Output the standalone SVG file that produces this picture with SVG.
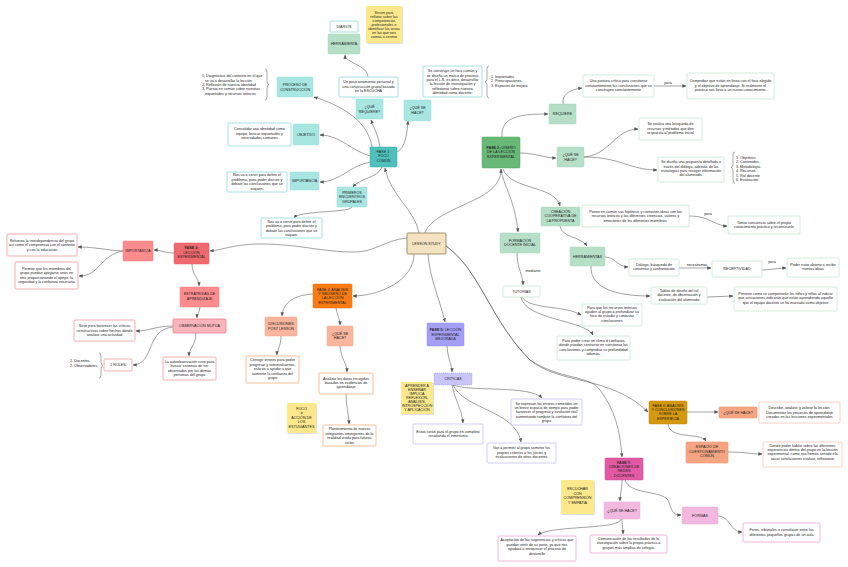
<svg xmlns="http://www.w3.org/2000/svg" width="848" height="567" viewBox="0 0 848 567">
<defs>
<marker id="a" viewBox="0 0 6 6" refX="5.5" refY="3" markerWidth="4" markerHeight="4" orient="auto" markerUnits="userSpaceOnUse"><path d="M0,0.5 L6,3 L0,5.5 z" fill="#555"/></marker>
<style>
.t{font-family:"Liberation Sans",Arial,sans-serif;font-size:3.7px;fill:#222;text-anchor:middle}
.s{text-anchor:start}
.b{font-weight:bold}
rect{rx:1;ry:1}
.w{fill:#fff;stroke-width:0.8}
.k1{fill:#4fc1bc;stroke:#3aa9a4;stroke-width:0.5}
.l1{fill:#a8e6e2;stroke:#98dcd8;stroke-width:0.5}
.w1{stroke:#8fd9d4}
.k2{fill:#68b877;stroke:#55a563;stroke-width:0.5}
.l2{fill:#b6dfc8;stroke:#a6d6bb;stroke-width:0.5}
.w2{stroke:#c4e7d4}
.ls{fill:#f4e3c1;stroke:#8a7a5a;stroke-width:0.8}
.k3{fill:#ef6b6f;stroke:#e05a5e;stroke-width:0.5}
.l3{fill:#ff8c8c;stroke:#f57f80;stroke-width:0.5}
.m3{fill:#f9b5bb;stroke:#f0848c;stroke-width:0.8}
.w3{stroke:#f49aa0}
.k4{fill:#fb7b13;stroke:#e86c08;stroke-width:0.5}
.l4{fill:#f9b59d;stroke:#f3a68b;stroke-width:0.5}
.w4{stroke:#f9ad7c}
.k5{fill:#a49ef5;stroke:#938ce8;stroke-width:0.5}
.l5{fill:#c9c5f9;stroke:#9d97ee;stroke-width:0.6;stroke-dasharray:1,1}
.w5{stroke:#c6c1f6}
.k6{fill:#d6980e;stroke:#c0870a;stroke-width:0.5}
.l6{fill:#f6a582;stroke:#f19570;stroke-width:0.6}
.w6{stroke:#f6c7b6}
.k7{fill:#e25aa3;stroke:#d04b92;stroke-width:0.5}
.l7{fill:#f2b8df;stroke:#e9a8d4;stroke-width:0.5}
.w7{stroke:#e8a6d2}
.st{fill:#fde98c}
.sh{fill:#000;opacity:0.12}
.c{fill:none;stroke:#555;stroke-width:0.55;marker-end:url(#a)}
.br{fill:none;stroke:#555;stroke-width:0.5}
</style>
</defs>
<rect width="848" height="567" fill="#fff" rx="0"/>

<g id="connectors">
<path class="c" d="M419,233 C415,210 390,195 385,168"/>
<path class="c" d="M372,147 C368,120 340,105 314,97"/>
<path class="c" d="M380,147 C378,135 374,128 371,120"/>
<path class="c" d="M397,152 C405,148 407,135 408,121"/>
<path class="c" d="M370,156 C350,150 340,135 320,135"/>
<path class="c" d="M371,162 C350,165 340,182 320,182"/>
<path class="c" d="M382,167 C378,178 360,178 353,187"/>
<path class="c" d="M352,207 C350,213 300,210 294,218"/>
<path class="c" d="M368,77 C368,65 345,63 345,55"/>
<path class="c" d="M425,233 C430,215 470,205 488,192 C497,185 501,178 501,169"/>
<path class="c" d="M501,169 C503,185 515,200 518,232"/>
<path class="c" d="M503,169 C510,190 555,185 560,206"/>
<path class="c" d="M502,137 C500,115 525,114 548,114"/>
<path class="c" d="M563,104 C562,95 568,90 582,88"/>
<path class="c" d="M654,86 L686,86"/>
<path class="c" d="M520,153 C535,153 545,158 556,158"/>
<path class="c" d="M584,157 C610,155 615,129 638,129"/>
<path class="c" d="M584,157 C620,157 630,170 657,170"/>
<path class="c" d="M560,226 C562,238 580,236 587,246"/>
<path class="c" d="M689,216 C710,216 715,226 727,226"/>
<path class="c" d="M605,257 C615,257 618,267 628,267"/>
<path class="c" d="M679,268 L711,268"/>
<path class="c" d="M762,270 C770,270 778,268 786,268"/>
<path class="c" d="M591,266 C590,290 620,296 650,296"/>
<path class="c" d="M707,297 L733,296"/>
<path class="c" d="M517,253 C517,268 523,275 523,285"/>
<path class="c" d="M522,297 C530,310 565,305 581,315"/>
<path class="c" d="M521,297 C525,320 585,320 593,335"/>
<path class="c" d="M428,254 C430,280 440,300 445,322"/>
<path class="c" d="M447,346 C448,360 452,365 452,372"/>
<path class="c" d="M453,385 C470,392 530,385 542,398"/>
<path class="c" d="M452,385 C455,400 462,410 463,423"/>
<path class="c" d="M453,385 C465,410 515,410 521,442"/>
<path class="c" d="M407,238 C385,240 375,252 355,252 C320,252 300,244 260,244 C235,244 222,250 210,251"/>
<path class="c" d="M174,253 C165,253 160,250 154,250"/>
<path class="c" d="M123,251 C105,250 95,247 78,247"/>
<path class="c" d="M123,251 C100,255 100,276 79,276"/>
<path class="c" d="M192,264 C192,275 199,278 199,286"/>
<path class="c" d="M200,307 C200,312 197,314 197,318"/>
<path class="c" d="M173,326 C155,326 150,331 136,331"/>
<path class="c" d="M173,327 C145,330 155,364 133,365"/>
<path class="c" d="M196,333 C196,345 189,348 189,356"/>
<path class="c" d="M414,254 C414,280 380,296 353,296"/>
<path class="c" d="M313,294 C295,295 283,302 282,316"/>
<path class="c" d="M336,308 C337,315 340,318 340,325"/>
<path class="c" d="M281,336 C281,346 277,350 277,355"/>
<path class="c" d="M340,346 C341,360 347,362 347,372"/>
<path class="c" d="M346,394 C346,405 349,415 349,424"/>
<path class="c" d="M446,246 C480,270 490,320 530,360 C560,385 610,375 648,412"/>
<path class="c" d="M446,246 C480,270 490,320 530,360 C560,380 590,375 600,390 C615,410 620,430 622,457"/>
<path class="c" d="M687,412 C700,412 705,412 718,412"/>
<path class="c" d="M668,424 C670,440 700,432 706,441"/>
<path class="c" d="M728,452 C745,452 750,454 762,454"/>
<path class="c" d="M622,480 C622,490 620,494 620,501"/>
<path class="c" d="M625,480 C630,495 660,490 668,500 C672,510 672,515 681,515"/>
<path class="c" d="M718,516 C730,516 730,532 742,532"/>
<path class="c" d="M621,519 C620,530 550,525 538,535"/>
<path class="c" d="M622,519 C622,525 623,528 623,534"/>
<text class="t" x="668" y="84">para</text>
<text class="t" x="708" y="215">para</text>
<text class="t" x="697" y="266">necesitamos</text>
<text class="t" x="772" y="263">para</text>
<text class="t" x="533" y="272">mediante</text>
</g>

<g id="sticky-sirven"><rect class="sh" x="367" y="7" width="36" height="37"/><rect class="st" x="366" y="6" width="36" height="37" rx="0"/><text class="t" x="384"><tspan x="384" y="13.5">Sirven para</tspan><tspan x="384" y="17.6">reflotar sobre las</tspan><tspan x="384" y="21.7">competencias</tspan><tspan x="384" y="25.8">profesionales e</tspan><tspan x="384" y="29.9">identificar las áreas</tspan><tspan x="384" y="34">en las que nos</tspan><tspan x="384" y="38.1">vamos a centrar</tspan></text></g>
<g id="diarios"><rect class="w w1" x="330" y="21" width="28" height="11"/><text class="t" x="344" y="27.8">DIARIOS</text></g>
<g id="herramienta"><rect class="l2" x="328" y="34" width="32" height="20"/><text class="t" x="344" y="45.3">HERRAMIENTA</text></g>
<g id="posicionamiento"><rect class="w w1" x="339" y="77" width="59" height="20"/><text class="t"><tspan x="368.5" y="83.2">Un posicionamiento personal y</tspan><tspan x="368.5" y="87.6">una construcción grupal basada</tspan><tspan x="368.5" y="92">en la ESCUCHA</tspan></text></g>
<g id="proceso"><rect class="l1" x="277" y="77" width="36" height="20"/><text class="t"><tspan x="295" y="86">PROCESO DE</tspan><tspan x="295" y="90.5">CONSTRUCCIÓN</tspan></text></g>
<g id="lista-proceso"><text class="t s"><tspan x="202" y="77.3">1. Diagnóstico del contexto en el que</tspan><tspan x="205" y="81.5">se va a desarrollar la lección</tspan><tspan x="202" y="85.8">2. Reflexión de nuestra identidad</tspan><tspan x="202" y="90.2">3. Puesta en común sobre nuestras</tspan><tspan x="205" y="94.5">inquietudes y recursos teóricos</tspan></text><path class="br" d="M265,69 q2,0 2,3 v9 q0,3 2,3.5 q-2,0.5 -2,3.5 v9 q0,3 -2,3"/></g>
<g id="que-requiere"><rect class="l1" x="356" y="99" width="27" height="20"/><text class="t"><tspan x="369.5" y="108.2">¿QUÉ</tspan><tspan x="369.5" y="112.7">REQUIERE?</tspan></text></g>
<g id="que-hace-1"><rect class="l1" x="404" y="100" width="27" height="21"/><text class="t"><tspan x="417.5" y="109">¿QUÉ SE</tspan><tspan x="417.5" y="113.5">HACE?</tspan></text></g>
<g id="se-construye"><rect class="w w1" x="423" y="66" width="59" height="31"/><text class="t"><tspan x="452.5" y="72.2">Se construye un foco común y</tspan><tspan x="452.5" y="76.6">se diseña un marco de proceso</tspan><tspan x="452.5" y="81">para el L.S, es decir, desarrollar</tspan><tspan x="452.5" y="85.4">la lección de investigación y</tspan><tspan x="452.5" y="89.8">reflexionar sobre nuestra</tspan><tspan x="452.5" y="94.2">identidad como docente.</tspan></text></g>
<g id="lista-inquietudes"><path class="br" d="M489,66 q-2,0 -2,3 v9.5 q0,3 -2,3.5 q2,0.5 2,3.5 v9.5 q0,3 2,3"/><text class="t s"><tspan x="491" y="78.2">1. Inquietudes</tspan><tspan x="491" y="82.4">2. Preocupaciones</tspan><tspan x="491" y="86.8">3. Espacios de mejora</tspan></text></g>
<g id="objetivo"><rect class="l1" x="293" y="124" width="26" height="21"/><text class="t" x="306" y="135.8">OBJETIVO</text></g>
<g id="consolidar"><rect class="w w1" x="228" y="123" width="63" height="23"/><text class="t"><tspan x="259.5" y="130.2">Consolidar una identidad como</tspan><tspan x="259.5" y="134.6">equipo, buscar inquietudes y</tspan><tspan x="259.5" y="139">necesidades comunes</tspan></text></g>
<g id="fase1"><rect class="k1" x="370" y="147" width="27" height="20"/><text class="t"><tspan x="383.5" y="153">FASE 1:</tspan><tspan x="383.5" y="157.4">FOCO</tspan><tspan x="383.5" y="161.8">COMÚN</tspan></text></g>
<g id="importancia-1"><rect class="l1" x="290" y="172" width="29" height="18"/><text class="t" x="304.5" y="182.3">IMPORTANCIA</text></g>
<g id="nos-va-1"><rect class="w w1" x="227" y="172" width="60" height="20"/><text class="t"><tspan x="257" y="176.3">Nos va a servir para definir el</tspan><tspan x="257" y="180.7">problema, para poder discutir y</tspan><tspan x="257" y="185.1">debatir las conclusiones que se</tspan><tspan x="257" y="189.5">saquen.</tspan></text></g>
<g id="primeros"><rect class="l1" x="337" y="187" width="30" height="20"/><text class="t"><tspan x="352" y="193.8">PRIMEROS</tspan><tspan x="352" y="198.2">ENCUENTROS</tspan><tspan x="352" y="202.6">GRUPALES</tspan></text></g>
<g id="nos-va-2"><rect class="w w1" x="261" y="218" width="61" height="20"/><text class="t"><tspan x="291.5" y="222.8">Nos va a servir para definir el</tspan><tspan x="291.5" y="227.2">problema, para poder discutir y</tspan><tspan x="291.5" y="231.6">debatir las conclusiones que se</tspan><tspan x="291.5" y="236">saquen.</tspan></text></g>
<g id="lesson-study"><rect class="ls" x="407" y="233" width="39" height="21"/><text class="t" x="426.5" y="244.8">LESSON STUDY</text></g>

<g id="fase2"><rect class="k2" x="482" y="137" width="38" height="31"/><text class="t"><tspan x="501" y="149"><tspan class="b">FASE 2:</tspan> DISEÑO</tspan><tspan x="501" y="153.4">DE LA LECCIÓN</tspan><tspan x="501" y="157.8">EXPERIMENTAL</tspan></text></g>
<g id="requiere"><rect class="l2" x="549" y="104" width="27" height="20"/><text class="t" x="562.5" y="115.3">REQUIERE</text></g>
<g id="postura"><rect class="w w2" x="583" y="75" width="71" height="22"/><text class="t"><tspan x="618.5" y="82.2">Una postura crítica para cuestionar</tspan><tspan x="618.5" y="86.6">constantemente las conclusiones que se</tspan><tspan x="618.5" y="91">construyen constantemente</tspan></text></g>
<g id="comprobar"><rect class="w w2" x="687" y="73" width="87" height="26"/><text class="t"><tspan x="730.5" y="82.2">Comprobar que están en línea con el foco elegido</tspan><tspan x="730.5" y="86.6">y el objetivo de aprendizaje. Si realmente el</tspan><tspan x="730.5" y="91">proceso nos lleva a un nuevo conocimiento.</tspan></text></g>
<g id="que-hace-2"><rect class="l2" x="557" y="147" width="27" height="20"/><text class="t"><tspan x="570.5" y="156">¿QUÉ SE</tspan><tspan x="570.5" y="160.5">HACE?</tspan></text></g>
<g id="se-realiza"><rect class="w w2" x="639" y="118" width="63" height="22"/><text class="t"><tspan x="670.5" y="125.2">Se realiza una búsqueda de</tspan><tspan x="670.5" y="129.6">recursos y métodos que den</tspan><tspan x="670.5" y="134">respuesta al problema inicial</tspan></text></g>
<g id="se-disena"><rect class="w w2" x="658" y="157" width="66" height="25"/><text class="t"><tspan x="691" y="163.2">Se diseña una propuesta detallada a</tspan><tspan x="691" y="167.6">través del diálogo, además de las</tspan><tspan x="691" y="172">estrategias para recoger información</tspan><tspan x="691" y="176.4">del alumnado.</tspan></text></g>
<g id="lista-objetivos"><path class="br" d="M735,152 q-2,0 -2,3 v9 q0,3 -2,3.5 q2,0.5 2,3.5 v9 q0,3 2,3"/><text class="t s"><tspan x="736" y="159">1. Objetivos</tspan><tspan x="736" y="163.4">2. Contenidos</tspan><tspan x="736" y="167.8">3. Metodología</tspan><tspan x="736" y="172.2">4. Recursos</tspan><tspan x="736" y="176.6">5. Rol docente</tspan><tspan x="736" y="181">6. Evaluación</tspan></text></g>
<g id="creacion"><rect class="l2" x="541" y="207" width="39" height="19"/><text class="t"><tspan x="560.5" y="213">CREACIÓN</tspan><tspan x="560.5" y="217.4">COOPERATIVA DE</tspan><tspan x="560.5" y="221.8">LA PROPUESTA</tspan></text></g>
<g id="ponen"><rect class="w w2" x="582" y="205" width="107" height="22"/><text class="t"><tspan x="635.5" y="212.8">Ponen en común sus hipótesis y contastan ideas con los</tspan><tspan x="635.5" y="217.2">recursos teóricos y las diferentes creencias, valores y</tspan><tspan x="635.5" y="221.6">emociones de los diferentes miembros.</tspan></text></g>
<g id="tomar"><rect class="w w2" x="728" y="216" width="72" height="18"/><text class="t"><tspan x="764" y="223.5">Tomar conciencia sobre el propio</tspan><tspan x="764" y="227.9">conocimiento práctico y reconstruirlo</tspan></text></g>
<g id="formacion"><rect class="l2" x="500" y="233" width="40" height="20"/><text class="t"><tspan x="520" y="242">FORMACIÓN</tspan><tspan x="520" y="246.4">DOCENTE INICIAL</tspan></text></g>
<g id="herramientas"><rect class="l2" x="570" y="247" width="35" height="19"/><text class="t" x="587.5" y="257.8">HERRAMIENTAS</text></g>
<g id="dialogo"><rect class="w w2" x="629" y="259" width="50" height="17"/><text class="t"><tspan x="654" y="266">Diálogo, búsqueda de</tspan><tspan x="654" y="270.4">consenso y confrontación</tspan></text></g>
<g id="receptividad"><rect class="w w2" x="712" y="261" width="50" height="16"/><text class="t" x="737" y="270.3">RECEPTIVIDAD</text></g>
<g id="poder-estar"><rect class="w w2" x="787" y="258" width="52" height="19"/><text class="t"><tspan x="813" y="266">Poder estar abierto a recibir</tspan><tspan x="813" y="270.4">nuevas ideas</tspan></text></g>
<g id="tablas"><rect class="w w2" x="651" y="287" width="56" height="17"/><text class="t"><tspan x="679" y="292">Tablas de diseño del rol</tspan><tspan x="679" y="296.4">docente, de observación y</tspan><tspan x="679" y="300.8">evaluación del alumnado</tspan></text></g>
<g id="preveen"><rect class="w w2" x="734" y="287" width="103" height="24"/><text class="t"><tspan x="785.5" y="294.8">Preveen como se comportarán los niños y niñas al indicar</tspan><tspan x="785.5" y="299.2">que actuaciones indicarán que están aprendiendo aquello</tspan><tspan x="785.5" y="303.6">que el equipo docente se ha marcado como objetivo</tspan></text></g>
<g id="tutorias"><rect class="w w2" x="503" y="286" width="37" height="11"/><text class="t" x="521.5" y="292.8">TUTORÍAS</text></g>
<g id="para-que"><rect class="w w2" x="582" y="304" width="60" height="22"/><text class="t"><tspan x="612" y="308.6">Para que los recursos teóricos</tspan><tspan x="612" y="313">ayuden al grupo a profundizar su</tspan><tspan x="612" y="317.4">foco de estudio y contastar</tspan><tspan x="612" y="321.8">conclusiones</tspan></text></g>
<g id="para-poder"><rect class="w w2" x="557" y="336" width="73" height="24"/><text class="t"><tspan x="593.5" y="342">Para poder crear un clima d confianza</tspan><tspan x="593.5" y="346.4">donde puedan centrarse en cuestionar las</tspan><tspan x="593.5" y="350.8">conclusiones y comprobar su profundidad</tspan><tspan x="593.5" y="355.2">además.</tspan></text></g>

<g id="fase5"><rect class="k5" x="427" y="323" width="37" height="23"/><text class="t"><tspan x="445.5" y="331.4"><tspan class="b">FASE 5:</tspan> LECCIÓN</tspan><tspan x="445.5" y="335.8">EXPERIMENTAL</tspan><tspan x="445.5" y="340.2">MEJORADA</tspan></text></g>
<g id="criticas"><rect class="l5" x="434" y="373" width="38" height="12"/><text class="t" x="453" y="380.3">CRÍTICAS</text></g>
<g id="sticky-aprender"><rect class="sh" x="402" y="383" width="32" height="32"/><rect class="st" x="401" y="382" width="32" height="32" rx="0"/><text class="t"><tspan x="417" y="386.5">APRENDER A</tspan><tspan x="417" y="390.5">ENSEÑAR</tspan><tspan x="417" y="394.5">IMPLICA</tspan><tspan x="417" y="398.5">REFLEXIÓN,</tspan><tspan x="417" y="402.5">ANÁLISIS,</tspan><tspan x="417" y="406.5">INTROSPECCIÓN</tspan><tspan x="417" y="410.5">Y APLICACIÓN</tspan></text></g>
<g id="se-expresan"><rect class="w w5" x="511" y="399" width="71" height="26"/><text class="t"><tspan x="546.5" y="404.5">Se expresan los errores cometidos en</tspan><tspan x="546.5" y="408.9">un breve espacio de tiempo para poder</tspan><tspan x="546.5" y="413.3">favorecer el progreso y evolución real</tspan><tspan x="546.5" y="417.7">aumentando también la confianza del</tspan><tspan x="546.5" y="422.1">grupo</tspan></text></g>
<g id="estos"><rect class="w w5" x="413" y="424" width="70" height="20"/><text class="t"><tspan x="448" y="433">Estos serán para el grupo en completo</tspan><tspan x="448" y="437.4">resaltando el inmetismo</tspan></text></g>
<g id="van"><rect class="w w5" x="487" y="443" width="69" height="20"/><text class="t"><tspan x="521.5" y="449.4">Van a permitir al grupo someter los</tspan><tspan x="521.5" y="453.8">propios criterios a los juicios y</tspan><tspan x="521.5" y="458.2">evaluaciones de otros docentes</tspan></text></g>

<g id="fase3"><rect class="k3" x="174" y="243" width="35" height="21"/><text class="t"><tspan x="191.5" y="249.3" class="b">FASE 3:</tspan><tspan x="191.5" y="253.7">LECCIÓN</tspan><tspan x="191.5" y="258.1">EXPERIMENTAL</tspan></text></g>
<g id="importancia-3"><rect class="l3" x="123" y="241" width="30" height="20"/><text class="t" x="138" y="252.3">IMPORTANCIA</text></g>
<g id="refuerza"><rect class="w w3" x="7" y="234" width="70" height="22"/><text class="t"><tspan x="42" y="242">Refuerza la interdependencia del grupo</tspan><tspan x="42" y="246.4">así como el compromiso con el contexto</tspan><tspan x="42" y="250.8">y con la educación</tspan></text></g>
<g id="permite"><rect class="w w3" x="15" y="262" width="63" height="27"/><text class="t"><tspan x="46.5" y="270">Permite que los miembros del</tspan><tspan x="46.5" y="274.4">grupo puedan apoyarse unos en</tspan><tspan x="46.5" y="278.8">otro proporcionando el apoyo, la</tspan><tspan x="46.5" y="283.2">seguridad y la confianza necesaria</tspan></text></g>
<g id="estrategias"><rect class="l3" x="180" y="287" width="39" height="20"/><text class="t"><tspan x="199.5" y="295.2">ESTRATEGIAS DE</tspan><tspan x="199.5" y="299.6">APRENDIZAJE</tspan></text></g>
<g id="observacion"><rect class="m3" x="173" y="319" width="53" height="14"/><text class="t" x="199.5" y="327.3">OBSERVACIÓN MUTUA</text></g>
<g id="sirve"><rect class="w w3" x="74" y="320" width="61" height="21"/><text class="t"><tspan x="104.5" y="327.2">Sirve para favorecer las críticas</tspan><tspan x="104.5" y="331.6">constructivas sobre hechos donde</tspan><tspan x="104.5" y="336">analizar una actividad</tspan></text></g>
<g id="roles"><rect class="w w3" x="104" y="359" width="28" height="12"/><text class="t" x="118" y="366.3">2 ROLES</text></g>
<g id="lista-roles"><text class="t s"><tspan x="70" y="362.3">1. Docentes</tspan><tspan x="70" y="366.7">2. Observadores</tspan></text><path class="br" d="M99,353 q2,0 2,3 v6 q0,3 2,3.5 q-2,0.5 -2,3.5 v6 q0,3 -2,3"/></g>
<g id="autoobservacion"><rect class="w w3" x="163" y="357" width="53" height="23"/><text class="t"><tspan x="189.5" y="363">La autoobservación sirve para</tspan><tspan x="189.5" y="367.4">buscar sistemas de ser</tspan><tspan x="189.5" y="371.8">observados por los demás</tspan><tspan x="189.5" y="376.2">personas del grupo</tspan></text></g>

<g id="fase4"><rect class="k4" x="313" y="284" width="39" height="24"/><text class="t"><tspan x="332.5" y="290.6">FASE 4: ANÁLISIS</tspan><tspan x="332.5" y="295">Y REDISEÑO DE</tspan><tspan x="332.5" y="299.4">LA LECCIÓN</tspan><tspan x="332.5" y="303.8">EXPERIMENTAL</tspan></text></g>
<g id="discusiones"><rect class="l4" x="265" y="317" width="32" height="19"/><text class="t"><tspan x="281" y="325.2">DISCUSIONES</tspan><tspan x="281" y="329.6">POST LESSON</tspan></text></g>
<g id="que-hace-4"><rect class="l4" x="327" y="326" width="26" height="20"/><text class="t"><tspan x="340" y="335">¿QUÉ SE</tspan><tspan x="340" y="339.4">HACE?</tspan></text></g>
<g id="corregir"><rect class="w w4" x="246" y="356" width="53" height="27"/><text class="t"><tspan x="272.5" y="361.4">Corregir errores para poder</tspan><tspan x="272.5" y="365.8">progresar y autoevaluarnos,</tspan><tspan x="272.5" y="370.2">esto va a ayudar a que</tspan><tspan x="272.5" y="374.6">aumente la confianza del</tspan><tspan x="272.5" y="379">grupo</tspan></text></g>
<g id="analizar"><rect class="w w4" x="319" y="373" width="54" height="21"/><text class="t"><tspan x="346" y="379.6">Analizar los datos recogidos</tspan><tspan x="346" y="384">basados en evidencias de</tspan><tspan x="346" y="388.4">aprendizaje</tspan></text></g>
<g id="sticky-foco"><rect class="sh" x="288" y="404" width="29" height="30"/><rect class="st" x="287" y="403" width="29" height="30" rx="0"/><text class="t"><tspan x="301.5" y="410">FOCO</tspan><tspan x="301.5" y="414.4">=</tspan><tspan x="301.5" y="418.8">ACCIÓN DE</tspan><tspan x="301.5" y="423.2">LOS</tspan><tspan x="301.5" y="427.6">ESTUDIANTES</tspan></text></g>
<g id="planteamiento"><rect class="w w4" x="323" y="425" width="53" height="21"/><text class="t"><tspan x="349.5" y="430.4">Planteamiento de nuevos</tspan><tspan x="349.5" y="434.8">integrantes emergentes de la</tspan><tspan x="349.5" y="439.2">realidad vivida para futuros</tspan><tspan x="349.5" y="443.6">ciclos</tspan></text></g>

<g id="fase6"><rect class="k6" x="649" y="401" width="38" height="23"/><text class="t"><tspan x="668" y="406.5">FASE 6: ANÁLISIS</tspan><tspan x="668" y="410.9">Y CONCLUSIONES</tspan><tspan x="668" y="415.3">SOBRE LA</tspan><tspan x="668" y="419.7">EXPERIECIA</tspan></text></g>
<g id="que-hace-6"><rect class="l6" x="719" y="407" width="38" height="11"/><text class="t" x="738" y="413.8">¿QUÉ SE HACE?</text></g>
<g id="describir"><rect class="w w6" x="759" y="402" width="81" height="21"/><text class="t"><tspan x="799.5" y="409.2">Describir, analizar y valorar la lección.</tspan><tspan x="799.5" y="413.6">Documentar los procesos de aprendizaje</tspan><tspan x="799.5" y="418">creados en las lecciones experimentales</tspan></text></g>
<g id="espacio"><rect class="l6" x="686" y="442" width="42" height="21"/><text class="t"><tspan x="707" y="448.4">ESPACIO DE</tspan><tspan x="707" y="452.8">CUESTIONAMIENTO</tspan><tspan x="707" y="457.2">COMÚN</tspan></text></g>
<g id="donde"><rect class="w w6" x="763" y="442" width="79" height="25"/><text class="t"><tspan x="802.5" y="446.6">Donde poder hablar sobre las diferentes</tspan><tspan x="802.5" y="451">experiencias dentro del grupo en la lección</tspan><tspan x="802.5" y="455.4">experimental, como nos hemos sentido ela</tspan><tspan x="802.5" y="459.8">sacar conclusiones evaluar, reflexionar</tspan></text></g>

<g id="fase7"><rect class="k7" x="605" y="458" width="38" height="22"/><text class="t"><tspan x="624" y="463.5" class="b">FASE 7:</tspan><tspan x="624" y="467.9">CREACIONES DE</tspan><tspan x="624" y="472.3">REDES</tspan><tspan x="624" y="476.7">DOCENTES</tspan></text></g>
<g id="sticky-escuchar"><rect class="sh" x="562" y="481" width="33" height="34"/><rect class="st" x="561" y="480" width="33" height="34" rx="0"/><text class="t"><tspan x="577.5" y="490.3">ESCUCHAR</tspan><tspan x="577.5" y="494.7">CON</tspan><tspan x="577.5" y="499.1">COMPRENSIÓN</tspan><tspan x="577.5" y="503.5">Y EMPATÍA</tspan></text></g>
<g id="que-hace-7"><rect class="l7" x="604" y="502" width="36" height="17"/><text class="t" x="622" y="511.8">¿QUÉ SE HACE?</text></g>
<g id="formas"><rect class="l7" x="682" y="507" width="36" height="17"/><text class="t" x="700" y="516.8">FORMAS</text></g>
<g id="foros"><rect class="w w7" x="743" y="523" width="77" height="19"/><text class="t"><tspan x="781.5" y="531">Foros, tribunales o constilaste entre los</tspan><tspan x="781.5" y="535.6">diferentes pequeños grupos de un aula</tspan></text></g>
<g id="aceptacion"><rect class="w w7" x="498" y="536" width="78" height="25"/><text class="t"><tspan x="537" y="540.8">Aceptación de las sugerencias y críticas que</tspan><tspan x="537" y="545.6">puedan venir de su parte, ya que nos</tspan><tspan x="537" y="550.4">ayudará a enriquecer el proceso de</tspan><tspan x="537" y="555.2">desarrollo</tspan></text></g>
<g id="comunicacion"><rect class="w w7" x="590" y="535" width="77" height="18"/><text class="t"><tspan x="628.5" y="539.8">Comunicación de los resultados de la</tspan><tspan x="628.5" y="544.4">investigación sobre la propia práctica a</tspan><tspan x="628.5" y="549">grupos más amplios de colegas</tspan></text></g>
</svg>
